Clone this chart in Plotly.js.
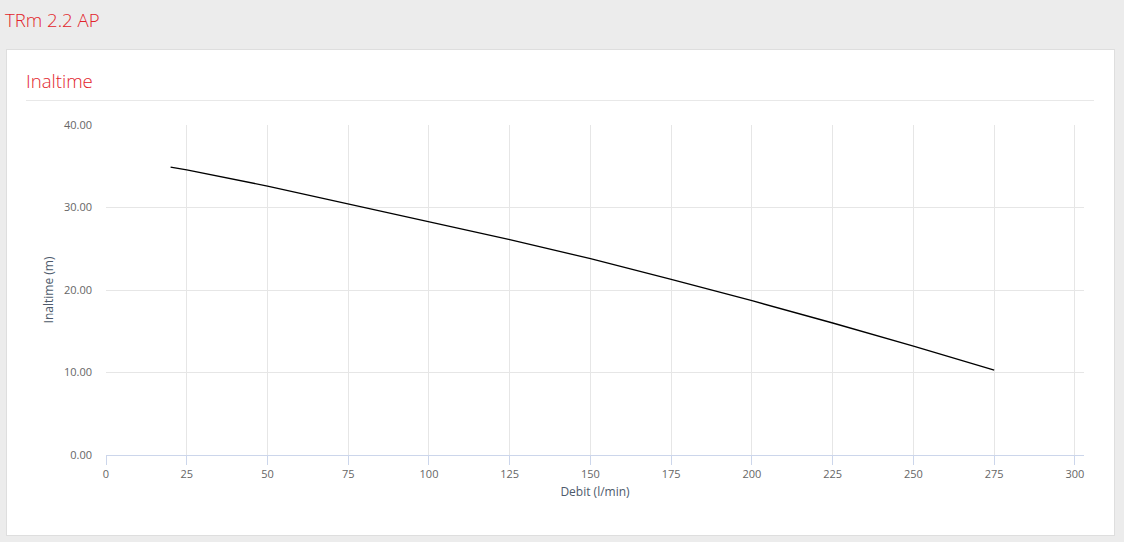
<!DOCTYPE html>
<html>
<head>
<meta charset="utf-8">
<script src="https://cdn.plot.ly/plotly-3.0.1.min.js"></script>
<style>
  html, body { margin:0; padding:0; width:1124px; height:542px; background:#ececec; overflow:hidden; font-family:"Open Sans", sans-serif; }
  #pageTitle { position:absolute; left:5px; top:7px; font-size:18.6px; color:#e2242b; font-weight:300; }
  #card { position:absolute; left:6px; top:49px; width:1107px; height:485px; background:#fff; border:1px solid #dedede; }
  #cardTitle { position:absolute; left:26px; top:68px; font-size:18.6px; color:#e2242b; font-weight:300; }
  #sep { position:absolute; left:26px; top:100px; width:1068px; height:1px; background:#e8e8e8; }
  #chart { position:absolute; left:0; top:0; width:1124px; height:542px; }
</style>
</head>
<body>
<div id="pageTitle">TRm 2.2 AP</div>
<div id="card"></div>
<div id="cardTitle">Inaltime</div>
<div id="sep"></div>
<div id="chart"></div>
<script>
const debit = [20, 25, 50, 75, 100, 125, 150, 175, 200, 225, 250, 275];
const inaltime = [34.9, 34.55, 32.6, 30.45, 28.3, 26.1, 23.8, 21.3, 18.7, 16.0, 13.2, 10.3];
const xTicks = [0, 25, 50, 75, 100, 125, 150, 175, 200, 225, 250, 275, 300];
const yTicks = [0, 10, 20, 30, 40];
const yTickText = ["0.00", "10.00", "20.00", "30.00", "40.00"];

const trace = {
  x: debit, y: inaltime, type: 'scatter', mode: 'lines',
  line: { color: '#000000', width: 1.3 },
  hoverinfo: 'x+y', showlegend: false
};

const layout = {
  width: 1124, height: 542,
  paper_bgcolor: 'rgba(0,0,0,0)', plot_bgcolor: 'rgba(0,0,0,0)',
  margin: { l: 106, r: 40, t: 125, b: 87, pad: 0 },
  font: { family: '"Open Sans", sans-serif', size: 11, color: '#666666' },
  xaxis: {
    range: [0, 302.8], tickvals: xTicks, ticktext: xTicks.map(String),
    showgrid: true, gridcolor: '#e6e6e6', gridwidth: 1,
    zeroline: false, showline: true, linecolor: '#ccd6eb', linewidth: 1,
    ticks: 'outside', ticklen: 9, tickcolor: '#ccd6eb', tickwidth: 1,
    tickfont: { size: 11, color: '#666666' },
    title: { text: 'Debit (l/min)', font: { size: 12, color: '#4d5a6b' }, standoff: 7 },
    automargin: false
  },
  yaxis: {
    range: [0, 40], tickvals: yTicks, ticktext: yTickText,
    showgrid: true, gridcolor: '#e6e6e6', gridwidth: 1,
    zeroline: false, showline: false, ticks: '',
    ticklabelstandoff: 13,
    tickfont: { size: 11, color: '#666666' },
    title: { text: 'Inaltime (m)', font: { size: 12, color: '#4d5a6b' }, standoff: 7 },
    automargin: false
  }
};

Plotly.newPlot('chart', [trace], layout, { displayModeBar: false });
</script>
</body>
</html>
